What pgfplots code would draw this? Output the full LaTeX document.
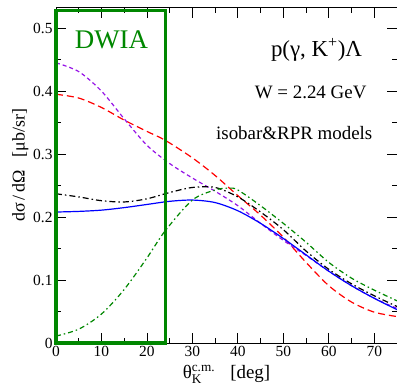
\documentclass[border=0pt]{standalone}
\usepackage{amsmath}
\usepackage{fontspec}
\setmainfont{Liberation Serif}
\usepackage{pgfplots}
\pgfplotsset{compat=1.18}
\definecolor{dgreen}{RGB}{0,135,0}
\definecolor{cpurple}{RGB}{150,20,230}
\begin{document}
\begin{tikzpicture}[x=1bp,y=1bp]
\begin{axis}[
  scale only axis,
  width=341bp, height=335bp,
  xmin=0, xmax=75, ymin=0, ymax=0.532,
  xtick={0,10,...,70}, minor xtick={5,15,...,75},
  ytick={0,0.1,0.2,0.3,0.4,0.5}, minor ytick={0.05,0.15,...,0.55},
  yticklabels={0,0.1,0.2,0.3,0.4,0.5},
  tick align=inside,
  major tick length=10bp, minor tick length=5bp,
  tick style={black, line width=0.8bp},
  axis line style={line width=1bp},
  /pgf/number format/assume math mode=true,
  ticklabel style={font=\fontsize{15.5}{16}\selectfont},
  xlabel={θ$^{\text{c.m.}}_{\text{K}}$\hspace{0.8em}[deg]},
  ylabel={dσ\,/\,dΩ\hspace{0.7em}[μb/sr]},
  xlabel style={font=\fontsize{19}{20}\selectfont, yshift=-1bp},
  ylabel style={font=\fontsize{18}{19}\selectfont, at={(ticklabel cs:0.53)}, yshift=-2bp},
  clip=false,
]
\addplot[red, line width=1.2bp, dash pattern=on 7bp off 4bp, smooth] coordinates {
(0,0.395) (5,0.389) (10,0.374) (15,0.354) (20,0.336) (24,0.322) (30,0.294) (35,0.266) (40,0.234) (45,0.203) (50,0.168) (55,0.128) (60,0.091) (65,0.065) (70,0.049) (75,0.042)};
\addplot[cpurple, line width=1.2bp, dash pattern=on 4bp off 3bp, smooth] coordinates {
(0,0.445) (5,0.431) (10,0.400) (15,0.356) (20,0.314) (25,0.285) (30,0.262) (35,0.241) (40,0.218) (45,0.190) (50,0.163) (55,0.139) (60,0.114) (65,0.091) (70,0.071) (75,0.055)};
\addplot[blue, line width=1.2bp, smooth] coordinates {
(0,0.208) (5,0.209) (10,0.211) (15,0.215) (20,0.220) (25,0.225) (30,0.227) (35,0.223) (40,0.210) (45,0.190) (50,0.166) (55,0.140) (60,0.114) (65,0.091) (70,0.071) (75,0.053)};
\addplot[black, line width=1.2bp, dash pattern=on 6bp off 3bp on 1.5bp off 3bp, smooth] coordinates {
(0,0.237) (5,0.232) (10,0.226) (15,0.224) (20,0.229) (25,0.239) (30,0.247) (35,0.247) (40,0.232) (45,0.208) (50,0.180) (55,0.146) (60,0.117) (65,0.094) (70,0.075) (75,0.058)};
\addplot[dgreen, line width=1.2bp, dash pattern=on 5bp off 3bp on 1.5bp off 3bp, smooth] coordinates {
(0,0.011) (5,0.022) (10,0.046) (15,0.085) (20,0.135) (24,0.178) (30,0.227) (35,0.243) (38,0.246) (40,0.243) (45,0.218) (50,0.190) (55,0.160) (60,0.128) (65,0.103) (70,0.084) (75,0.067)};
\draw[dgreen, line width=3.6bp] (axis cs:0,0) rectangle (axis cs:24.1,0.528);
\node[dgreen, font=\fontsize{27}{27}\selectfont] at (axis cs:12.2,0.481) {DWIA};
\node[font=\fontsize{23}{23}\selectfont] at (axis cs:57.3,0.465) {p(γ, K\textsuperscript{+})Λ};
\node[font=\fontsize{19}{19}\selectfont] at (axis cs:56,0.398) {W = 2.24 GeV};
\node[font=\fontsize{19}{19}\selectfont] at (axis cs:52.4,0.333) {isobar\&RPR models};
\coordinate (sw) at (rel axis cs:0,0);
\coordinate (ne) at (rel axis cs:1,1);
\end{axis}
\pgfresetboundingbox
\path ([xshift=-56bp,yshift=-47bp]sw) rectangle ([yshift=8bp]ne);
\end{tikzpicture}
\end{document}
